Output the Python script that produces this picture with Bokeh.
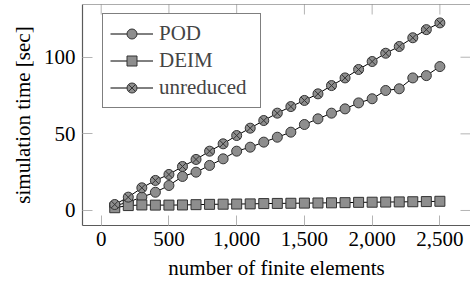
import math
from bokeh.plotting import figure
from bokeh.models import Range1d, Legend, LegendItem, NumeralTickFormatter, Span
from bokeh.embed import file_html
from bokeh.resources import INLINE

elements = [100, 200, 300, 400, 500, 600, 700, 800, 900, 1000, 1100, 1200, 1300,
            1400, 1500, 1600, 1700, 1800, 1900, 2000, 2100, 2200, 2300, 2400, 2500]
pod = [3.0, 5.5, 8.7, 11.9, 16.3, 22.2, 25.0, 29.4, 33.7, 38.7, 41.3, 44.6, 47.8,
       51.1, 56.1, 59.8, 63.5, 66.3, 70.2, 72.9, 78.3, 79.4, 86.5, 88.0, 93.9]
deim = [1.8, 3.2, 3.6, 3.5, 3.5, 3.6, 3.8, 4.0, 4.1, 4.2, 4.3, 4.5, 4.6,
        4.7, 4.8, 4.9, 5.0, 5.1, 5.3, 5.4, 5.5, 5.6, 5.7, 5.8, 6.0]
unreduced = [3.9, 8.7, 14.8, 19.6, 23.5, 28.7, 33.3, 38.7, 43.5, 48.9, 53.7, 58.7, 63.5,
             67.8, 71.8, 76.1, 81.5, 86.5, 92.0, 97.2, 102.6, 107.0, 112.7, 118.0, 122.4]
x_ticks = [0, 500, 1000, 1500, 2000, 2500]
y_ticks = [0, 50, 100]
x_title = "number of finite elements"
y_title = "simulation time [sec]"

X_MIN, X_MAX = -138, 2726
Y_MIN, Y_MAX = -9.8, 134.4

FONT = "Liberation Serif"
FS = "21px"
FILL = "#8e8e8e"
EDGE = "#333333"
FRAME = "#5a5a5a"
TICK = "#b4b4b4"

p = figure(width=470, height=287, output_backend="svg", toolbar_location=None,
           x_range=Range1d(X_MIN, X_MAX), y_range=Range1d(Y_MIN, Y_MAX),
           min_border_left=82, min_border_right=0, min_border_top=4,
           min_border_bottom=62, outline_line_color=None)
p.grid.visible = False
p.background_fill_color = "white"
p.border_fill_color = "white"

for ax in (p.xaxis[0], p.yaxis[0]):
    ax.major_tick_in = 10
    ax.major_tick_out = 0
    ax.minor_tick_line_color = None
    ax.major_tick_line_color = TICK
    ax.axis_line_color = FRAME
    ax.axis_line_width = 1.2
    ax.major_label_text_font = FONT
    ax.major_label_text_font_size = FS
    ax.major_label_text_color = "black"
    ax.axis_label_text_font = FONT
    ax.axis_label_text_font_size = FS
    ax.axis_label_text_font_style = "normal"
    ax.axis_label_text_color = "black"

p.xaxis.ticker = x_ticks
p.xaxis.formatter = NumeralTickFormatter(format="0,0")
p.xaxis.axis_label = x_title
p.xaxis.major_label_standoff = 6
p.xaxis.axis_label_standoff = 7
p.yaxis.ticker = y_ticks
p.yaxis.axis_label = y_title
p.yaxis.major_label_standoff = 7
p.yaxis.axis_label_standoff = 6

# top frame line and mirrored ticks (top / right), clipped at the frame
p.add_layout(Span(location=Y_MAX, dimension="width", line_color=FRAME, line_width=1.2))
p.scatter(x_ticks, [Y_MAX] * len(x_ticks), marker="dash", angle=math.pi / 2, size=20,
          line_color=TICK, line_width=1)
p.scatter([X_MAX] * len(y_ticks), y_ticks, marker="dash", size=20,
          line_color=TICK, line_width=1)

items = []
for name, ys, marker in (("POD", pod, "circle"), ("DEIM", deim, "square"),
                         ("unreduced", unreduced, "circle_x")):
    ln = p.line(elements, ys, line_color="black", line_width=1)
    sc = p.scatter(elements, ys, marker=marker, size=10, fill_color=FILL,
                   line_color=EDGE, line_width=1)
    items.append(LegendItem(label=name, renderers=[ln, sc]))

legend = Legend(items=items, location=(20, 117), border_line_color="black",
                border_line_width=1, background_fill_color="white", background_fill_alpha=1,
                label_text_font=FONT, label_text_font_size=FS,
                glyph_width=43, glyph_height=25, label_height=25, label_width=94,
                spacing=2, padding=7, label_standoff=6, margin=0)
p.add_layout(legend)

open("out.html", "w").write(file_html(p, INLINE))
